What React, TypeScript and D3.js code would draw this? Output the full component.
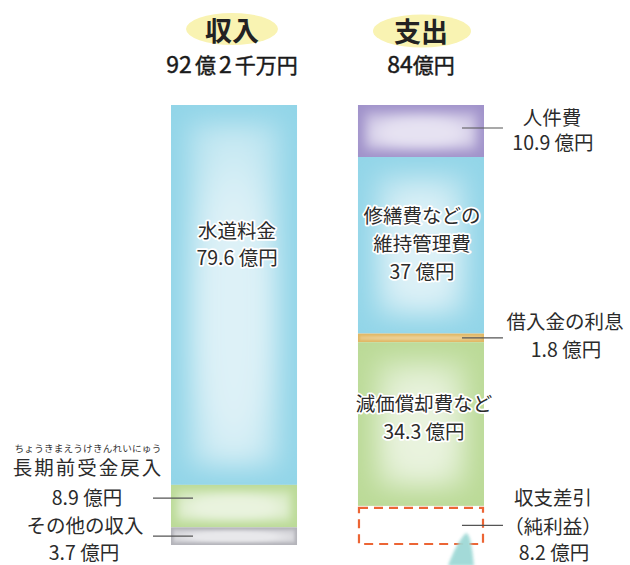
import React from "react";
import * as d3 from "d3";

const incomeCategories = ["水道料金", "長期前受金戻入", "その他の収入"];
const incomeValues = [79.6, 8.9, 3.7];
const expenseCategories = ["人件費", "修繕費などの維持管理費", "借入金の利息", "減価償却費など", "収支差引（純利益）"];
const expenseValues = [10.9, 37, 1.8, 34.3, 8.2];
const titles = ["収入", "支出"];

const W = 630, H = 565;
const FONT = "'Noto Sans CJK JP', 'Noto Sans', sans-serif";

const incomeColors = [
  { id: "cA", edge: "#92d5e8", mid: "#ddf1f7" },
  { id: "gA", edge: "#bbda97", mid: "#e9f3de" },
  { id: "yA", edge: "#b3b3b9", mid: "#e8e8eb" },
];
const expenseColors = [
  { id: "pB", edge: "#a092ca", mid: "#e6e2f2" },
  { id: "cB", edge: "#92d5e8", mid: "#ddf1f7" },
  { id: "oB", edge: "#e0b764", mid: "#ecd095" },
  { id: "gB", edge: "#bbda97", mid: "#e9f3de" },
  { id: "none", edge: "none", mid: "none" },
];

function stackTop(values: number[]) {
  const out: [number, number][] = [];
  let acc = 0;
  values.forEach((v) => {
    out.push([acc, acc + v]);
    acc += v;
  });
  return out;
}

function Segment({ id, x, y0, w, h, edge, mid }: any) {
  const m = Math.min(w, h);
  const inset = Math.max(2, m * 0.14);
  const blur = Math.max(1, m * 0.1);
  const soft = d3.interpolateRgb(edge, mid)(0.55);
  return (
    <g>
      <defs>
        <clipPath id={"clip" + id}>
          <rect x={x} y={y0} width={w} height={h} />
        </clipPath>
        <filter id={"blur" + id} x="-30%" y="-30%" width="160%" height="160%">
          <feGaussianBlur stdDeviation={blur} />
        </filter>
        <radialGradient id={"rg" + id} cx="50%" cy="55%" r="60%">
          <stop offset="0%" stopColor={mid} />
          <stop offset="55%" stopColor={mid} />
          <stop offset="100%" stopColor={soft} />
        </radialGradient>
      </defs>
      <rect x={x} y={y0} width={w} height={h} fill={edge} />
      {h > 8 && (
        <g clipPath={`url(#clip${id})`}>
          <rect x={x + inset} y={y0 + inset} width={w - 2 * inset} height={h - 2 * inset}
            fill={`url(#rg${id})`} filter={`url(#blur${id})`} />
        </g>
      )}
      {h <= 8 && <rect x={x} y={y0 + h * 0.3} width={w} height={h * 0.4} fill={mid} opacity={0.6} />}
    </g>
  );
}

export default function App() {
  const total = d3.sum(incomeValues);
  const y = d3.scaleLinear().domain([total, 0]).range([545, 105]);
  const x = d3.scaleBand().domain(titles).range([171, 484]).paddingInner(0.326);
  const bw = x.bandwidth();
  const incStack = stackTop(incomeValues);
  const expStack = stackTop(expenseValues);
  const xi = x("収入")!;
  const xe = x("支出")!;
  const cI = xi + bw / 2;
  const cE = xe + bw / 2;

  const halo = {
    stroke: "#ffffff",
    strokeWidth: 3.5,
    paintOrder: "stroke" as const,
    strokeLinejoin: "round" as const,
  };
  const lbl = { fontFamily: FONT, fontSize: 19.5, fill: "#2b2b2b" };

  const mid = (s: [number, number]) => (y(s[0]) + y(s[1])) / 2;

  return (
    <svg width={W} height={H} style={{ position: "absolute", left: 0, top: 0, background: "#fff" }}>
      <defs>
        <filter id="soft" x="-20%" y="-20%" width="140%" height="140%">
          <feGaussianBlur stdDeviation="1.5" />
        </filter>
      </defs>

      {/* title ellipses */}
      <ellipse cx={232} cy={29} rx={46} ry={16} fill="#f9f3b2" />
      <ellipse cx={422} cy={31} rx={49} ry={16.5} fill="#f9f3b2" />
      <text x={232} y={41} textAnchor="middle" fontFamily={FONT} fontSize={27} fontWeight={700} fill="#222">{titles[0]}</text>
      <text x={421} y={42} textAnchor="middle" fontFamily={FONT} fontSize={27} fontWeight={700} fill="#222">{titles[1]}</text>
      <g fontFamily={FONT} fontWeight={400} fill="#1a1a1a" stroke="#1a1a1a" strokeWidth={0.45}>
        <text x={232} y={73} textAnchor="middle" fontSize={23}>
          <tspan>92</tspan><tspan fontSize={21} dx={3}>億</tspan><tspan dx={3}>2</tspan><tspan fontSize={21} dx={3}>千万円</tspan>
        </text>
        <text x={421} y={73} textAnchor="middle" fontSize={23}>
          <tspan>84</tspan><tspan fontSize={21}>億円</tspan>
        </text>
      </g>

      {/* income bar */}
      {incStack.map((s, i) => (
        <Segment key={"i" + i} id={incomeColors[i].id} x={xi} y0={y(s[0])} w={bw} h={y(s[1]) - y(s[0])}
          edge={incomeColors[i].edge} mid={incomeColors[i].mid} />
      ))}
      {/* expense bar */}
      {expStack.map((s, i) =>
        expenseColors[i].id === "none" ? (
          <rect key={"e" + i} x={xe + 1} y={y(s[0]) + 2} width={bw - 2} height={y(s[1]) - y(s[0]) - 3}
            fill="none" stroke="#ec6535" strokeWidth={2.2} strokeDasharray="9 6" />
        ) : (
          <Segment key={"e" + i} id={expenseColors[i].id} x={xe} y0={y(s[0])} w={bw} h={y(s[1]) - y(s[0])}
            edge={expenseColors[i].edge} mid={expenseColors[i].mid} />
        )
      )}

      {/* teal arrow fragment */}
      <path d={`M${xe + 108},${533} C${xe + 112},${534} ${xe + 114},${545} ${xe + 116},${566} L${xe + 90},${566} C${xe + 95},${552} ${xe + 101},${540} ${xe + 108},${533} Z`}
        fill="#9fd9d6" filter="url(#soft)" opacity={0.95} />

      {/* leader lines */}
      {[0, 2, 4].map((i) => (
        <line key={"le" + i} x1={xe + 104} x2={xe + 145} y1={mid(expStack[i]) - (i === 0 ? 3 : 0)} y2={mid(expStack[i]) - (i === 0 ? 3 : 0)} stroke="#555" strokeWidth={1.2} />
      ))}
      {[1, 2].map((i) => (
        <line key={"li" + i} x1={xi - 18} x2={xi + 22} y1={mid(incStack[i]) - (i === 1 ? 8 : 0)} y2={mid(incStack[i]) - (i === 1 ? 8 : 0)} stroke="#555" strokeWidth={1.2} />
      ))}

      {/* inside labels */}
      <g {...lbl} textAnchor="middle" style={halo}>
        <text x={cI + 3} y={238}>{incomeCategories[0]}</text>
        <text x={cI + 3} y={265}>{incomeValues[0]} 億円</text>
        <text x={cE + 1} y={223}>修繕費などの</text>
        <text x={cE + 1} y={251}>維持管理費</text>
        <text x={cE + 1} y={279}>{expenseValues[1]} 億円</text>
        <text x={cE + 3} y={411}>{expenseCategories[3]}</text>
        <text x={cE + 3} y={439}>{expenseValues[3]} 億円</text>
      </g>

      {/* right labels */}
      <g {...lbl} textAnchor="middle">
        <text x={552} y={125}>{expenseCategories[0]}</text>
        <text x={553} y={150}>{expenseValues[0]} 億円</text>
        <text x={565} y={329}>{expenseCategories[2]}</text>
        <text x={566} y={357}>{expenseValues[2]} 億円</text>
        <text x={553} y={505}>収支差引</text>
        <text x={553} y={534}>（純利益）</text>
        <text x={554} y={560}>{expenseValues[4]} 億円</text>
      </g>

      {/* left labels */}
      <text x={88} y={452} textAnchor="middle" fontFamily={FONT} fontSize={9.6} fill="#333" letterSpacing={0.2}>ちょうきまえうけきんれいにゅう</text>
      <g {...lbl} textAnchor="middle">
        <text x={88} y={475} letterSpacing={2}>{incomeCategories[1]}</text>
        <text x={87} y={505}>{incomeValues[1]} 億円</text>
        <text x={85} y={533}>{incomeCategories[2]}</text>
        <text x={84} y={560}>{incomeValues[2]} 億円</text>
      </g>
    </svg>
  );
}
